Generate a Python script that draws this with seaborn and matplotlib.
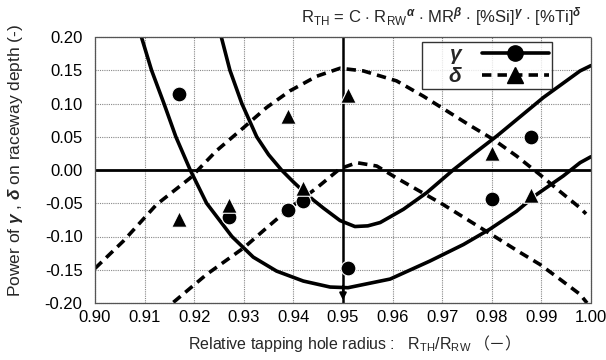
import numpy as np
import pandas as pd
import matplotlib
matplotlib.use("Agg")
import matplotlib.pyplot as plt
import seaborn as sns
from matplotlib.lines import Line2D

# measured points
x_pts = [0.917, 0.927, 0.939, 0.942, 0.951, 0.980, 0.988]
gamma_pts = [0.115, -0.071, -0.060, -0.047, -0.148, -0.044, 0.049]
delta_pts = [-0.073, -0.053, 0.081, -0.027, 0.113, 0.026, -0.038]

# fitted curves
gA_x = [0.9094, 0.9114, 0.9139, 0.9163, 0.9192, 0.9225, 0.9276, 0.9319, 0.9366, 0.9420,
        0.9474, 0.9510, 0.9595, 0.9675, 0.9743, 0.9796, 0.9850, 0.9890, 0.9944, 0.9978, 1.0000]
gA_y = [0.199, 0.150, 0.100, 0.050, 0.000, -0.050, -0.100, -0.131, -0.152, -0.167,
        -0.176, -0.177, -0.164, -0.137, -0.112, -0.089, -0.062, -0.037, -0.009, 0.011, 0.020]

gB_x = [0.9255, 0.9272, 0.9296, 0.9326, 0.9350, 0.9376, 0.9400, 0.9420, 0.9440, 0.9460,
        0.9494, 0.9524, 0.9550, 0.9575, 0.9622, 0.9669, 0.9722, 0.9763, 0.9810, 0.9857,
        0.9904, 0.9978, 1.0000]
gB_y = [0.199, 0.150, 0.100, 0.050, 0.023, 0.000, -0.018, -0.032, -0.045, -0.057,
        -0.076, -0.085, -0.084, -0.079, -0.059, -0.034, 0.000, 0.024, 0.051, 0.080,
        0.109, 0.149, 0.157]

dC_x = [0.9000, 0.9057, 0.9124, 0.9192, 0.9245, 0.9300, 0.9346, 0.9393, 0.9447, 0.9494,
        0.9541, 0.9608, 0.9662, 0.9709, 0.9756, 0.9803, 0.9850, 0.9897, 0.9937, 0.9978, 0.9990]
dC_y = [-0.148, -0.107, -0.052, -0.012, 0.029, 0.064, 0.094, 0.119, 0.141, 0.153,
        0.149, 0.134, 0.111, 0.089, 0.067, 0.046, 0.021, -0.007, -0.032, -0.057, -0.066]

dD_x = [0.9158, 0.9225, 0.9300, 0.9346, 0.9393, 0.9447, 0.9494, 0.9528, 0.9568, 0.9608,
        0.9655, 0.9702, 0.9756, 0.9810, 0.9857, 0.9897, 0.9937, 0.9978, 0.9992]
dD_y = [-0.199, -0.157, -0.117, -0.087, -0.057, -0.027, 0.002, 0.011, 0.006, -0.012,
        -0.032, -0.052, -0.077, -0.102, -0.124, -0.142, -0.164, -0.187, -0.200]

x_ticks = [0.90, 0.91, 0.92, 0.93, 0.94, 0.95, 0.96, 0.97, 0.98, 0.99, 1.00]
y_ticks = [-0.20, -0.15, -0.10, -0.05, 0.00, 0.05, 0.10, 0.15, 0.20]

sns.set_style("white")
plt.rcParams['font.family'] = ['Liberation Sans', 'DejaVu Sans']
plt.rcParams['mathtext.fontset'] = 'custom'
plt.rcParams['mathtext.rm'] = 'Liberation Sans'
plt.rcParams['mathtext.it'] = 'Liberation Sans:italic'
plt.rcParams['mathtext.bf'] = 'Liberation Sans:bold:italic'

W, H = 606, 360
fig = plt.figure(figsize=(W/100, H/100), dpi=100)
ax = fig.add_axes([95/W, 1-303/H, (591-95)/W, (303-37)/H])

# grid
for xv in x_ticks[1:-1]:
    ax.axvline(xv, color='#888888', lw=0.8, ls=(0, (1, 1)), zorder=0)
for yv in y_ticks[1:-1]:
    ax.axhline(yv, color='#888888', lw=0.8, ls=(0, (1, 1)), zorder=0)
ax.axhline(0.0, color='black', lw=2.0, zorder=1)
ax.axvline(0.95, color='black', lw=1.8, zorder=1)
ax.annotate('', xy=(0.95, -0.20), xytext=(0.95, -0.17),
            arrowprops=dict(arrowstyle='-|>', color='black', lw=1.5, mutation_scale=10), zorder=1)

lw = 2.6
dash = (0, (2.6, 1.7))
sns.lineplot(x=gA_x, y=gA_y, ax=ax, color='black', lw=lw, sort=False, estimator=None)
sns.lineplot(x=gB_x, y=gB_y, ax=ax, color='black', lw=lw, sort=False, estimator=None)
sns.lineplot(x=dC_x, y=dC_y, ax=ax, color='black', lw=lw, sort=False, estimator=None, linestyle=dash)
sns.lineplot(x=dD_x, y=dD_y, ax=ax, color='black', lw=lw, sort=False, estimator=None, linestyle=dash)

sns.scatterplot(x=x_pts, y=gamma_pts, ax=ax, marker='o', s=115, color='black', edgecolor='white', linewidth=0.8, zorder=5)
sns.scatterplot(x=x_pts, y=delta_pts, ax=ax, marker='^', s=125, color='black', edgecolor='white', linewidth=0.8, zorder=5)

ax.set_xlim(0.90, 1.00)
ax.set_ylim(-0.20, 0.20)
ax.set_xticks(x_ticks)
ax.set_xticklabels([f"{v:.2f}" for v in x_ticks])
ax.set_yticks(y_ticks)
ax.set_yticklabels([f"{v:.2f}" for v in y_ticks])
ax.tick_params(axis='both', labelsize=12, length=0, colors='black')
ax.tick_params(axis='y', pad=9)
ax.tick_params(axis='x', pad=5)
for s in ax.spines.values():
    s.set_visible(True)
    s.set_color('#555555')
    s.set_linewidth(0.9)
    s.set_linestyle((0, (1, 0.6)))

# y label
fig.text(16/W, 1-160/H, r'Power of $\mathbf{\gamma}$ , $\mathbf{\delta}$ on raceway depth (-)',
         rotation=90, ha='center', va='center', fontsize=12.5)

# title formula
fig.text(582/W, 1-17/H,
         r'R$_{\rm TH}$ = C $\cdot$ R$_{\rm RW}$$^{\mathbf{\alpha}}$ $\cdot$ MR$^{\mathbf{\beta}}$ $\cdot$ [%Si]$^{\mathbf{\gamma}}$ $\cdot$ [%Ti]$^{\mathbf{\delta}}$',
         ha='right', va='center', fontsize=12)

# x label in two pieces (mathtext part + CJK bracket part)
yl = 1-345/H
t1 = fig.text(0, yl, r'Relative tapping hole radius :   R$_{\rm TH}$/R$_{\rm RW}$', ha='left', va='center', fontsize=11.5)
t2 = fig.text(0, yl, '（－）', ha='left', va='center', fontsize=11.5, family=['Noto Sans CJK JP', 'DejaVu Sans'])
fig.canvas.draw()
r = fig.canvas.get_renderer()
w1 = t1.get_window_extent(r).width
w2 = t2.get_window_extent(r).width
gap = 2
total = w1 + gap + w2
x0 = 355 - total/2
t1.set_x(x0/W)
t2.set_x((x0 + w1 + gap)/W)

h1 = Line2D([], [], color='black', lw=lw, marker='o', markersize=11)
h2 = Line2D([], [], color='black', lw=lw, ls=dash, marker='^', markersize=11)
leg = ax.legend([h1, h2], [r'    $\mathbf{\gamma}$', r'    $\mathbf{\delta}$'], loc='upper right', bbox_to_anchor=(0.921, 0.981),
                markerfirst=False, fontsize=15, frameon=True, fancybox=False, edgecolor='black',
                handlelength=3.2, borderpad=0.15, labelspacing=0.05, handletextpad=0.9, borderaxespad=0)
leg.get_frame().set_linewidth(1.0)

fig.savefig('out.png', dpi=100)
